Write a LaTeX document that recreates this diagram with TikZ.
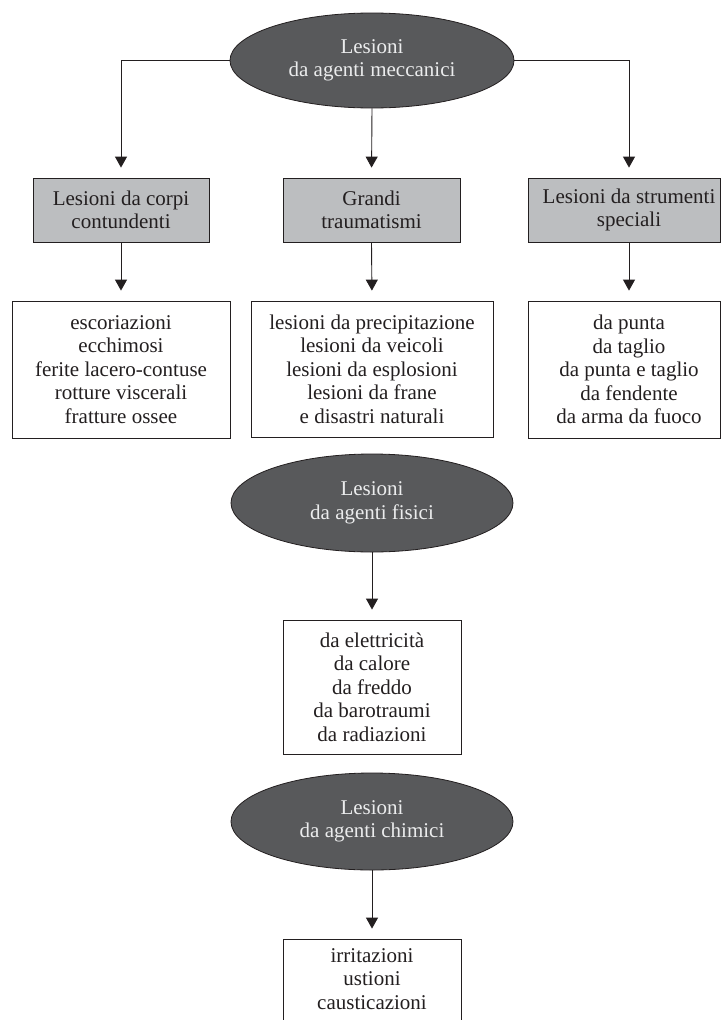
\documentclass[tikz,border=0pt]{standalone}
\usepackage{fontspec}
\setmainfont{Liberation Serif}
\usetikzlibrary{shapes.geometric,arrows.meta}
\definecolor{ellfill}{RGB}{88,89,91}
\definecolor{boxgrey}{RGB}{188,190,192}
\definecolor{ink}{RGB}{35,31,32}
\definecolor{elltext}{RGB}{235,236,237}
\tikzset{
  every node/.style={font=\fontsize{21}{23.5}\selectfont, text=ink, align=center, inner sep=0pt},
  ell/.style={ellipse, draw=ink, line width=0.8pt, fill=ellfill, text=elltext, minimum width=282pt, minimum height=96pt},
  greybox/.style={rectangle, draw=ink, line width=0.8pt, fill=boxgrey, minimum height=64pt},
  whitebox/.style={rectangle, draw=ink, line width=0.8pt, fill=white},
  conn/.style={draw=ink, line width=0.9pt, -{Triangle[width=12pt,length=11pt]}, shorten >=10pt},
}
\begin{document}
\begin{tikzpicture}[x=1pt,y=-1pt]
\useasboundingbox (0,0) rectangle (721,1020);
\clip (0,0) rectangle (721,1020);
\fill[white] (0,0) rectangle (721,1020);
% top ellipse
\node[ell, minimum width=284pt, minimum height=95pt] (e1) at (372,60.5) {Lesioni\\da agenti meccanici};
% grey boxes
\node[greybox, minimum width=176pt] (g1) at (121,210) {Lesioni da corpi\\contundenti};
\node[greybox, minimum width=177pt] (g2) at (371.5,210) {Grandi\\traumatismi};
\node[greybox, minimum width=192.5pt] (g3) at (624.25,210) {};
\node (g3t) at (629,210) {Lesioni da strumenti\\speciali};
\coordinate (c3) at (629,0);
% white boxes
\node[whitebox, minimum width=218pt, minimum height=137pt] (l1) at (121,369.5) {escoriazioni\\ecchimosi\\ferite lacero-contuse\\rotture viscerali\\fratture ossee};
\node[whitebox, minimum width=242pt, minimum height=136pt] (l2) at (372,369) {lesioni da precipitazione\\lesioni da veicoli\\lesioni da esplosioni\\lesioni da frane\\e disastri naturali};
\node[whitebox, minimum width=192.5pt, minimum height=137pt] (l3) at (624.25,369.5) {};
\node (l3t) at (629,369.5) {da punta\\da taglio\\da punta e taglio\\da fendente\\da arma da fuoco};
% physical agents
\node[ell, minimum height=98pt] (e2) at (372,503) {Lesioni\\da agenti fisici};
\node[whitebox, minimum width=178pt, minimum height=134pt] (p) at (372,687) {da elettricità\\da calore\\da freddo\\da barotraumi\\da radiazioni};
% chemical agents
\node[ell, minimum height=97pt] (e3) at (372,821.5) {Lesioni\\da agenti chimici};
\node[whitebox, minimum width=178pt, minimum height=131pt] (c) at (372,1004.5) {};
\node (ct) at (372,979) {irritazioni\\ustioni\\causticazioni};
% connectors
\draw[conn] (e1.west) -| (g1.north);
\draw[conn] (e1.south) -- (g2.north);
\draw[conn] (e1.east) -| (c3 |- g3.north);
\draw[conn] (g1.south) -- (l1.north);
\draw[conn] (g2.south) -- (l2.north);
\draw[conn] (c3 |- g3.south) -- (c3 |- l3.north);
\draw[conn] (e2.south) -- (p.north);
\draw[conn] (e3.south) -- (c.north);
\end{tikzpicture}
\end{document}
